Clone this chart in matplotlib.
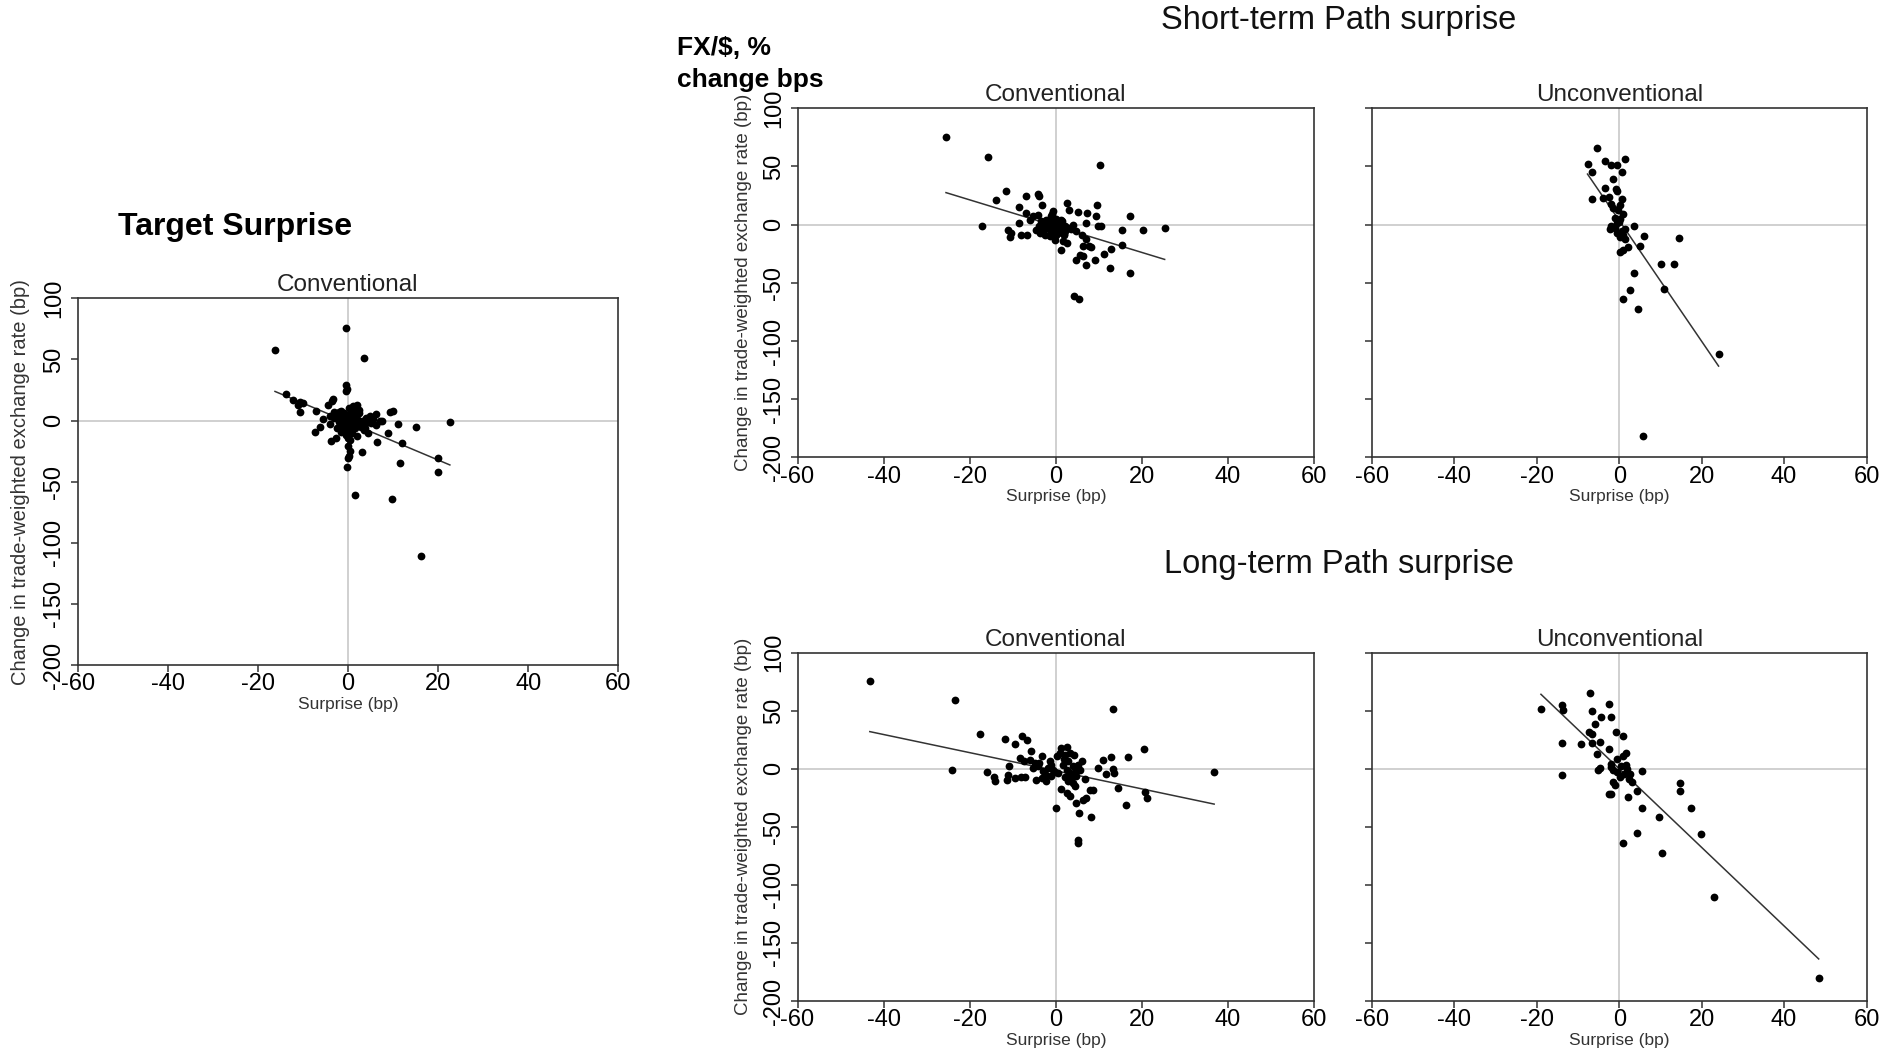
import numpy as np
import matplotlib
matplotlib.use("Agg")
import matplotlib.pyplot as plt

plt.rcParams['font.family'] = ['Liberation Sans', 'DejaVu Sans']
plt.rcParams['axes.unicode_minus'] = False

# Target surprise, conventional
target_x = [-16.2, -0.4, 3.6, -0.4, -0.2, -0.5, -13.7, -12.2, -10.7, -10, -11.1, -10.7, -7, -4.4,
            -3.3, -3.6, 1.9, 1.2, -1.9, -4.1, -5.6, -6.3, -7.4, -3.7, -2.6, 6.3, 9.3, 9.9, 7, 6.3,
            11.1, 15, 22.6, 8.9, 6.4, 12, 11.5, 20, 20, 3, 0, 0.4, 0.2, 0, -0.2, 1.6, 9.8, 16.1,
            4.8, 7.5, -3, -2, -1, 0, 1, 2, -1, 0.5, 1.5, 3, 4, 2.5, -2.5, -1.5, 0.2, 0.8, -0.5,
            3.5, 5, -4, 2, 4.5, -2, 0, 1, -1, 3, -0.3, 0.5, 1.2, 2.2, -3.2, 5.5,
            -0.6, 0.3, 1.8, -1.2, 2.8, -2.2, 0.9, -0.8, 3.8, 1.4, -1.6, 0.1, 2.4, 4.2]
target_y = [58, 75.6, 51.4, 29, 26, 24, 22, 17, 15, 14, 12.5, 7, 8, 12.5,
            18, 16, 13, 12, 7, 4, 1.4, -5.5, -9, -17, -14, 5.5, 7, 8, 0, -4,
            -3, -5, -1.4, -10, -17.5, -18, -35, -31, -42.5, -26, -21, -25, -29, -31, -38, -61, -64, -111,
            4, -0.5, 2, -1, 3, 0, -2, 1, -5, 5, -6, -3, 2, 6, -6, 8, 10, -10, -12,
            -8, -2, -3, -13, -10, 4, -4, 2, 0, 0, -8, -16, 8, -1, 7, 1,
            -2, 3, 4, -3, -5, 1, -7, 6, -6, 0, -9, -14, 9, -1]

# Short-term path surprise, conventional
st_conv_x = [-25.5, -15.7, 10.2, 4.3, 5.3, -17.1, -13.8, -11.6, -6.8, -4.1, -3.9, -8.5, -11.1, -10.5,
             -10.7, -8.1, -6.6, -8.5, -6.8, -6, -5.3, -4.1, -3.3, -4.5, -3.7, -2.6, -1.4, -0.2,
             -2.2, -1, 0.2, 0.9, -1.4, -2.6, -0.6, 2.5, 3.1, 5.2, 7.3, 2.1, 2.9, 1.7, 2.5, 1.3,
             4, 4.8, 6, 7.1, 9.5, 9.3, 9.8, 10.4, 7.1, 6.4, 7.8, 8.3, 5.7, 6.4, 4.7, 7.1, 9.1,
             11.2, 12.8, 12.6, 15.3, 15.4, 17.2, 17.2, 20.3, 25.3, -1, 0, 1, -2, -3, 0.5, 1.5,
             -0.5, 2, -4, -1.8, -0.8, 0.6, 1.2, -2.9, -1.2, 0.1, 3.5, -3.4, -0.3, 2.2, 1.9]
st_conv_y = [75.6, 58.5, 51.3, -61, -64, -1.4, 21, 29, 25, 26.6, 25, 15, -4.3, -7,
             -11, -8.6, -9.2, 1.4, 10, 4.3, 7, 8.6, 17, -4.3, -7, -8.6, -10, -12.9,
             4.3, 7, 2.9, -1.4, -1.4, 0, 11.5, 18.6, 12.3, 10.6, 10, -5.7, -2.9, -14.3, -15.8, -21.5,
             0, -5.7, -8.6, 1.4, 17.2, 7.2, -0.9, -0.9, -12, -18, -18.6, -19.2, -25.8, -27.2, -30, -35, -30.7,
             -25.2, -20.6, -37.2, -17.2, -4.3, 7.2, -41.5, -4.3, -2.9, 3, 5, -4, -3, 2, -7, 3,
             -3, -9, -1, 1, 9, -2, 4, -5, -6, -9, -4, 3, 1, -1, -8]

# Short-term path surprise, unconventional
st_unc_x = [-5.5, -7.7, -6.5, -3.5, -2, -0.6, 1.5, 0.6, -1.5, -3.5, -0.8, -0.5, -6.5, -4, -2.4, 0.6,
            -2.1, -1.6, -0.2, 0.8, 0.2, -0.6, -1.9, -2.3, -1, 3.5, 0.6, 1, 0.2, 1.4, 6, 14.5, 5,
            2.2, 1, 0.2, 10.1, 13.2, 3.5, 10.8, 2.6, 1, 4.6, 24.1, 5.7, 0, -1, 1.5, -0.5, 0.3]
st_unc_y = [66, 52.4, 45, 55, 51.6, 51.6, 56.8, 45, 39.5, 31.7, 30.8, 28.8, 22, 23, 23.6, 22,
            17.9, 14, 12.7, 9.2, 4.9, 1.2, -0.9, -3.7, -3.2, -0.9, -5.2, -8.9, -11, -12.4, -9.5, -11.8, -18.7,
            -19.6, -21.6, -23.9, -34, -34, -41.8, -55.6, -56.5, -63.7, -72.9, -111, -181.6, 2, 6, -4, -7, 17]

# Long-term path surprise, conventional
lt_conv_x = [-43.2, -23.5, -24, -17.7, -11.9, -9.5, -7.8, -6.7, -5.7, -15.9, -14.3, -14, -11.3, -11.1,
             -10.9, -9.5, -8, -7.2, -8.4, -7.4, -6, -4.9, -4.1, -3.3, -2.9, -2.2, -1.8, -1.4, -1,
             -0.6, -2.2, -4.5, -3.3, 0.2, 0.9, 1.3, 2.5, 2.1, 3.3, 4.2, 2.9, 1.7, 2.5, 3.3, 2.1,
             3.6, 4.4, 4.8, 5.2, 6, 4, 1.2, 2.5, 3.3, 4.4, 4.7, 6.4, 7.1, 7.9, 8.7, 6.7, 9.8, 10.9,
             0, 13.4, 12.9, 13.6, 13.4, 16.8, 20.6, 36.8, 14.4, 16.3, 20.7, 21.2, 8.2, 5.3, 5.1, 5.1, 11.6,
             -1.2, 0.6, 3.9, -5.2, 1.9, -0.2, 4.6, -3.8, 2.8, 5.6]
lt_conv_y = [75.8, 59.5, -0.9, 29.9, 25.6, 21.6, 27.9, 25, 15, -2.9, -7.2, -10.9, -9.5, -5.2,
             2, -8, -7.2, -7.2, 9.2, 6.3, 7.8, 4.9, 2, 10.6, -2.3, -5.2, 0.6, 6.3, -6.6,
             -0.9, -10.9, -9.5, -8, 10.6, 13.5, 17.8, 18.7, 12.1, 13.5, 12.1, 6.3, 3.4, -0.9, -3.7, -7.2,
             -8, -3.7, -0.9, 3.4, 6.3, 2, -17.5, -21, -23.3, -15.2, -29.6, -26.7, -25.3, -18.1, -18.7, -8.9, 0.6, 7.2,
             -33.9, 51.4, 10.3, -4, 0, 9.8, 16.7, -2.6, -17, -31, -20.4, -25.5, -41.3, -38, -61, -64.3, -4.5,
             3, -4, -12, 1, 8, -3, -6, 5, -11, -1]

# Long-term path surprise, unconventional
lt_unc_x = [-19, -14, -13.7, -14, -14, -7.1, -2.4, -6.5, -4.5, -1.9, -5.8, -7.3, -6.5, -0.9, 1,
            -9.3, -6.7, -4.7, -2.4, -5.5, -0.5, 0.8, 1.6, -2, -1.9, -1.6, -5.1, -4.7, 1.6, 1.8, 1.1,
            0.3, 2.4, 3, 5.4, -1.6, -1, -2.5, -1.9, 2.2, 4.4, 14.8, 14.8, 5.6, 17.5, 9.6, 19.9, 4.4,
            1, 10.3, 22.9, 48.4, 0.5, 2.5, -0.5]
lt_unc_y = [51.4, 54.9, 50.6, 22.4, -5.5, 65.5, 55.7, 50, 44.8, 44.8, 38.5, 31.3, 29.9, 31.3, 28.2,
            21.3, 22.4, 22.7, 16.7, 12.6, 8.3, 10.9, 13.2, 4, 1.1, -1.1, -1.1, 0.3, 3.2, -0.6, -4.6,
            -6.9, -9.2, -11.2, -2, -11.2, -14.1, -22.1, -22.1, -24.1, -19, -12.1, -19, -34.2, -34.2, -42, -56.6, -55.7,
            -64.4, -73, -110.6, -180.5, 2, -5, -3]

# fitted lines: intercept, slope
fit_a = [-1.3, -1.3, 3.5, -1.8, -0.2]
fit_b = [-1.55, -1.13, -5.19, -0.78, -3.38]

W, H = 1886, 1055
fig = plt.figure(figsize=(W / 100, H / 100), dpi=100)


def make_ax(l, r, t, b):
    return fig.add_axes([l / W, 1 - b / H, (r - l) / W, (b - t) / H])


def panel(ax, xs, ys, a, b, title, ylab=True, ylabsize=13.5):
    ax.set_xlim(-60, 60)
    ax.set_ylim(-200, 100)
    ax.axhline(0, color='#c8c8c8', lw=1.2, zorder=1)
    ax.axvline(0, color='#c8c8c8', lw=1.2, zorder=1)
    xs = np.array(xs)
    ys = np.array(ys)
    ax.plot(xs, ys, 'o', color='black', ms=5.6, mew=0, zorder=3)
    lx = np.array([xs.min(), xs.max()])
    ax.plot(lx, a + b * lx, color='#333333', lw=1.1, zorder=2)
    ax.set_xticks(np.arange(-60, 61, 20))
    ax.set_yticks(np.arange(-200, 101, 50))
    ax.tick_params(direction='out', length=5, width=1.1, color='#333333',
                   labelsize=17)
    ax.tick_params(axis='x', pad=1)
    ax.tick_params(axis='y', pad=4, labelrotation=90)
    for lab in ax.get_yticklabels():
        lab.set_va('center')
    for s in ax.spines.values():
        s.set_color('#333333')
        s.set_linewidth(1.2)
    ax.set_title(title, fontsize=17.5, color='#222222', pad=5)
    ax.set_xlabel('Surprise (bp)', fontsize=12.5, color='#333333', labelpad=1)
    if ylab:
        ax.set_ylabel('Change in trade-weighted exchange rate (bp)', fontsize=ylabsize,
                      color='#333333')
        ax.yaxis.set_label_coords(-0.088, 0.5)
    else:
        ax.tick_params(axis='y', labelleft=False)


ax1 = make_ax(77.6, 618.4, 298.3, 665)
panel(ax1, target_x, target_y, fit_a[0], fit_b[0], 'Conventional', ylabsize=14.5)

ax2 = make_ax(797.5, 1314, 108.3, 457.3)
panel(ax2, st_conv_x, st_conv_y, fit_a[1], fit_b[1], 'Conventional')

ax3 = make_ax(1372, 1866.5, 108.3, 457.3)
panel(ax3, st_unc_x, st_unc_y, fit_a[2], fit_b[2], 'Unconventional', ylab=False)

ax4 = make_ax(797.5, 1314, 652.5, 1001)
panel(ax4, lt_conv_x, lt_conv_y, fit_a[3], fit_b[3], 'Conventional')

ax5 = make_ax(1372, 1866.5, 652.5, 1001)
panel(ax5, lt_unc_x, lt_unc_y, fit_a[4], fit_b[4], 'Unconventional', ylab=False)

fig.text(1339 / W, 1 - 20 / H, 'Short-term Path surprise', fontsize=23.5, ha='center', va='center',
         color='#111111')
fig.text(1339 / W, 1 - 564 / H, 'Long-term Path surprise', fontsize=23.5, ha='center', va='center',
         color='#111111')
fig.text(235 / W, 1 - 227 / H, 'Target Surprise', fontsize=23, fontweight='bold', ha='center',
         va='center')
fig.text(677 / W, 1 - 48 / H, 'FX/$, %', fontsize=19, fontweight='bold', ha='left', va='center')
fig.text(677 / W, 1 - 80 / H, 'change bps', fontsize=19, fontweight='bold', ha='left', va='center')

fig.savefig('out.png', dpi=100)
